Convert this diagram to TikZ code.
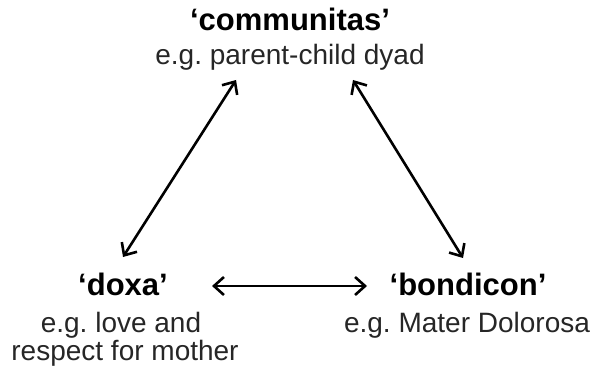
\documentclass[tikz,border=0pt]{standalone}
\usepackage{fontspec}
\setmainfont{Liberation Sans}
\usetikzlibrary{arrows.meta}
\frenchspacing
\begin{document}
\begin{tikzpicture}[x=1pt,y=-1pt,
  title/.style={anchor=base,inner sep=0pt,font=\fontsize{31}{34}\selectfont\bfseries},
  sub/.style={anchor=base,inner sep=0pt,font=\fontsize{28}{30}\selectfont,text=black!85},
  tip/.style={Straight Barb[length=10pt,width=18pt,line width=2.6pt]},
  arr/.style={line width=2.6pt,{Straight Barb[length=10pt,width=18pt,line width=2.6pt]}-{Straight Barb[length=10pt,width=18pt,line width=2.6pt]}}]
\useasboundingbox (0,0) rectangle (595,369);
\node[title] (comm) at (290,31) {‘communitas’};
\node[sub] (commsub) at (290,65) {e.g. parent-child dyad};
\node[title] (doxa) at (123,295) {‘doxa’};
\node[sub] (doxasub1) at (121,332) {e.g. love and};
\node[sub] (doxasub2) at (125,360) {respect for mother};
\node[title] (bond) at (468,295) {‘bondicon’};
\node[sub] (bondsub) at (467,332) {e.g. Mater Dolorosa};
\coordinate (commL) at (236,80);
\coordinate (commR) at (353,80);
\coordinate (doxaT) at (123,257);
\coordinate (bondT) at (463,258);
\coordinate (doxaR) at (212,286);
\coordinate (bondL) at (367,286);
\draw[arr] (doxaT) -- (commL);
\draw[arr] (commR) -- (bondT);
\draw[arr] (doxaR) -- (bondL);
\end{tikzpicture}
\end{document}
